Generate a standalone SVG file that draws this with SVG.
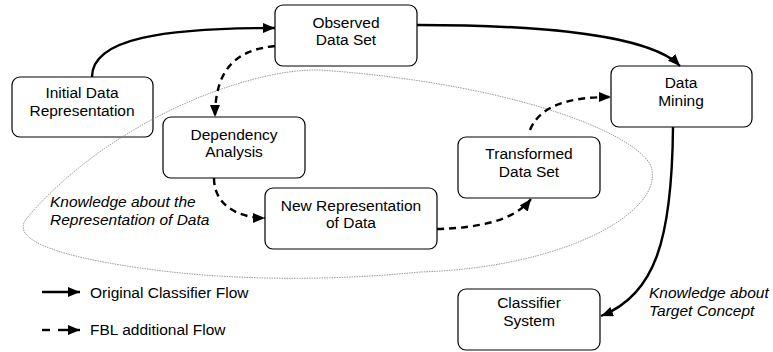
<svg xmlns="http://www.w3.org/2000/svg" width="773" height="352" viewBox="0 0 773 352">
<style>
  .box { fill: #fff; stroke: #000; stroke-width: 1.2; }
  .lbl { font-family: "Liberation Sans", Arial, sans-serif; font-size: 15.5px; fill: #000; text-anchor: middle; }
  .it { font-family: "Liberation Sans", Arial, sans-serif; font-size: 15.5px; font-style: italic; fill: #000; }
  .leg { font-family: "Liberation Sans", Arial, sans-serif; font-size: 15.5px; fill: #000; }
  .solid { fill: none; stroke: #000; stroke-width: 2.4; marker-end: url(#ah); }
  .dash { fill: none; stroke: #000; stroke-width: 2.4; stroke-dasharray: 7 5; marker-end: url(#ah); }
  .region { fill: none; stroke: #808080; stroke-width: 0.8; stroke-dasharray: 1.5 1; }
</style>
<defs>
  <marker id="ah" markerUnits="userSpaceOnUse" markerWidth="13" markerHeight="11" refX="12" refY="5" orient="auto" viewBox="0 0 13 11">
    <path d="M0,0 L12,5 L0,10 Z" fill="#000"/>
  </marker>
</defs>
<rect width="773" height="352" fill="#fff"/>

<g id="node-observed">
  <rect class="box" x="275" y="5" width="142" height="61" rx="8"/>
  <text class="lbl" x="346" y="28">Observed</text>
  <text class="lbl" x="346" y="45">Data Set</text>
</g>
<g id="node-initial">
  <rect class="box" x="12" y="77" width="141" height="60" rx="8"/>
  <text class="lbl" x="82" y="98">Initial Data</text>
  <text class="lbl" x="82" y="116">Representation</text>
</g>
<g id="node-dependency">
  <rect class="box" x="163" y="117" width="142" height="61" rx="8"/>
  <text class="lbl" x="234" y="140">Dependency</text>
  <text class="lbl" x="234" y="157">Analysis</text>
</g>
<g id="node-newrep">
  <rect class="box" x="265" y="188" width="172" height="61" rx="8"/>
  <text class="lbl" x="351" y="211">New Representation</text>
  <text class="lbl" x="351" y="228">of Data</text>
</g>
<g id="node-transformed">
  <rect class="box" x="458" y="137" width="142" height="61" rx="8"/>
  <text class="lbl" x="529" y="159">Transformed</text>
  <text class="lbl" x="529" y="177">Data Set</text>
</g>
<g id="node-datamining">
  <rect class="box" x="611" y="66" width="141" height="61" rx="8"/>
  <text class="lbl" x="681" y="88">Data</text>
  <text class="lbl" x="681" y="106">Mining</text>
</g>
<g id="node-classifier">
  <rect class="box" x="458" y="289" width="142" height="61" rx="8"/>
  <text class="lbl" x="529" y="308">Classifier</text>
  <text class="lbl" x="529" y="326">System</text>
</g>

<g id="region-knowledge">
  <path class="region" d="M652,170 C648,140 530,85 320,70 C250,68 110,120 27,218 C10,238 50,255 140,268 C230,281 330,281 420,272 C560,268 660,215 652,170 Z"/>
  <text class="it" x="50" y="207">Knowledge about the</text>
  <text class="it" x="50" y="225">Representation of Data</text>
</g>

<g id="connectors">
  <path class="solid" d="M92,77 C92,38 165,28 275,28"/>
  <path class="solid" d="M417,25 C540,25 650,35 680,66"/>
  <path class="dash" d="M275,46 C235,50 215,70 215,117"/>
  <path class="dash" d="M214,178 C214,205 238,218 265,218"/>
  <path class="dash" d="M437,229 C480,228 515,220 531,199"/>
  <path class="dash" d="M530,130 C540,105 570,97 611,97"/>
  <path class="solid" d="M673,127 C672,240 655,295 601,316"/>
  <text class="it" x="649" y="298">Knowledge about</text>
  <text class="it" x="649" y="316">Target Concept</text>
</g>

<g id="legend">
  <line x1="42" y1="292" x2="80" y2="292" stroke="#000" stroke-width="2.4" marker-end="url(#ah)"/>
  <text class="leg" x="90" y="298">Original Classifier Flow</text>
  <line x1="42" y1="330" x2="50" y2="330" stroke="#000" stroke-width="2.4"/>
  <line x1="58" y1="330" x2="80" y2="330" stroke="#000" stroke-width="2.4" marker-end="url(#ah)"/>
  <text class="leg" x="90" y="335">FBL additional Flow</text>
</g>
</svg>
